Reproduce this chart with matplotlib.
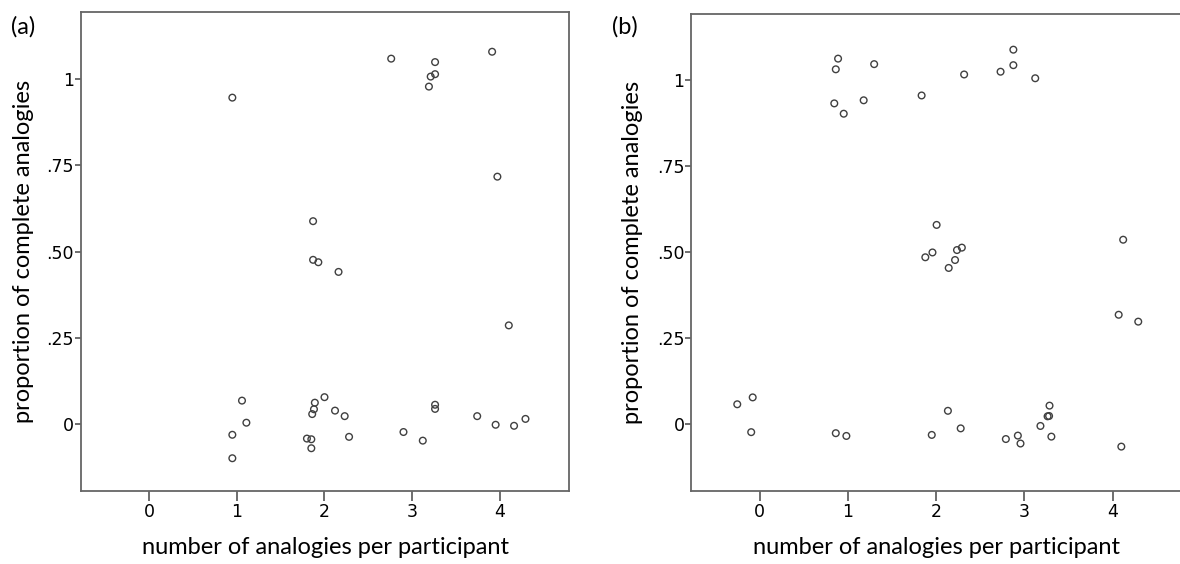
import numpy as np
import matplotlib
matplotlib.use('Agg')
import matplotlib.pyplot as plt

# panel (a): number of analogies (jittered) vs proportion complete
a_x = [0.95, 2.76, 3.26, 3.26, 3.21, 3.19, 3.91, 3.97, 1.87, 1.87, 1.93, 2.16,
       4.10, 1.06, 1.11, 0.95, 0.95, 2.00, 1.89, 1.88, 1.86, 2.12, 2.23, 2.28,
       1.80, 1.85, 1.85, 2.90, 3.12, 3.26, 3.26, 3.74, 3.95, 4.16, 4.29]
a_y = [0.946, 1.059, 1.049, 1.014, 1.007, 0.978, 1.079, 0.717, 0.588, 0.476, 0.469, 0.441,
       0.286, 0.068, 0.004, -0.031, -0.099, 0.078, 0.062, 0.043, 0.029, 0.039, 0.023, -0.037,
       -0.042, -0.044, -0.070, -0.023, -0.048, 0.056, 0.044, 0.023, -0.002, -0.005, 0.015]

# panel (b)
b_x = [0.887, 0.861, 0.844, 0.951, 1.177, 1.296, 1.834, 2.316, 2.729, 2.874, 2.874, 3.122,
       2.004, 1.876, 1.957, 2.141, 2.213, 2.235, 2.290, 4.119,
       4.068, 4.290, -0.256, -0.081, -0.098, 0.861, 0.981, 1.949, 2.132, 2.277,
       2.789, 2.925, 2.955, 3.181, 3.262, 3.279, 3.284, 3.305, 4.098]
b_y = [1.062, 1.031, 0.932, 0.902, 0.941, 1.046, 0.955, 1.016, 1.024, 1.088, 1.043, 1.005,
       0.579, 0.485, 0.499, 0.454, 0.477, 0.506, 0.513, 0.536,
       0.318, 0.298, 0.058, 0.078, -0.023, -0.026, -0.034, -0.031, 0.039, -0.012,
       -0.043, -0.033, -0.056, -0.005, 0.023, 0.024, 0.054, -0.036, -0.065]

yticks = [0, 0.25, 0.5, 0.75, 1]
yticklabels = ['0', '.25', '.50', '.75', '1']
xticks = [0, 1, 2, 3, 4]

label_font = ['Lato', 'DejaVu Sans']
tick_font = ['Liberation Sans Narrow', 'DejaVu Sans']

fig = plt.figure(figsize=(11.8, 5.64), dpi=100)
axa = fig.add_axes([0.0686, 0.130, 0.4139, 0.848])
axb = fig.add_axes([0.586, 0.130, 0.416, 0.846])

for ax, xs, ys, ylc, tag, tx in [(axa, a_x, a_y, -0.097, '(a)', 0.009),
                                  (axb, b_x, b_y, -0.099, '(b)', 0.519)]:
    ax.scatter(xs, ys, s=23, facecolors='none', edgecolors='#404040', linewidths=1.0)
    ax.set_xlim(-0.775, 4.79)
    ax.set_ylim(-0.193, 1.193)
    ax.set_xticks(xticks)
    ax.set_xticklabels([str(t) for t in xticks], family=tick_font, fontsize=12.5)
    ax.set_yticks(yticks)
    ax.set_yticklabels(yticklabels, family=tick_font, fontsize=12.5)
    ax.tick_params(axis='x', length=7, width=1.2, color='#555555', pad=2)
    ax.tick_params(axis='y', length=4, width=1.2, color='#555555', pad=1)
    for s in ax.spines.values():
        s.set_color('#666666')
        s.set_linewidth(1.3)
    ax.set_xlabel('number of analogies per participant', family=label_font, fontsize=17)
    ax.set_ylabel('proportion of complete analogies', family=label_font, fontsize=17)
    ax.xaxis.set_label_coords(0.5, -0.097)
    ax.yaxis.set_label_coords(ylc, 0.5)
    fig.text(tx, 0.972, tag, family=label_font, fontsize=17, va='top')

axb.spines['right'].set_visible(False)

fig.savefig('out.png', dpi=100)
